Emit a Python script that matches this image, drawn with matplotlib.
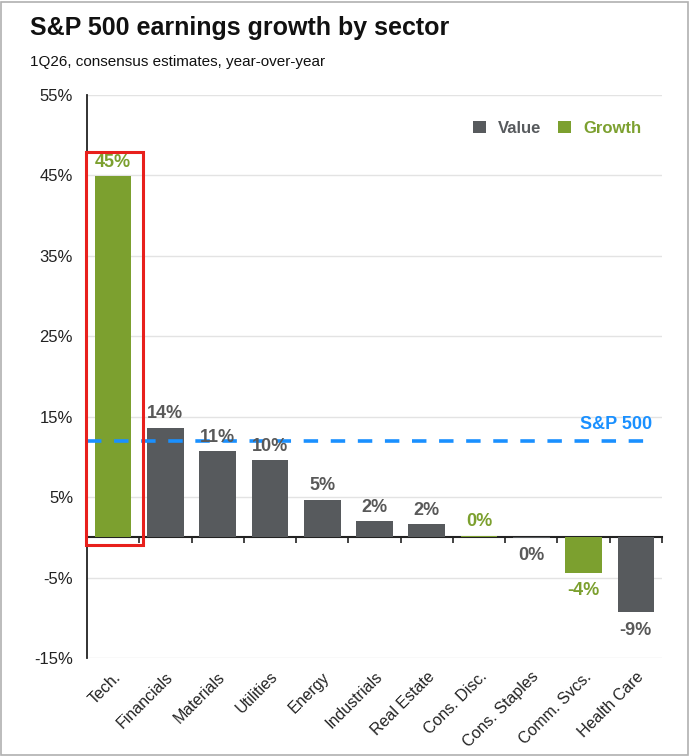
import matplotlib
matplotlib.use("Agg")
import matplotlib.pyplot as plt
from matplotlib.patches import Rectangle, Patch
import numpy as np

plt.rcParams['font.family'] = ['Liberation Sans', 'DejaVu Sans']

sectors = ["Tech.", "Financials", "Materials", "Utilities", "Energy", "Industrials",
           "Real Estate", "Cons. Disc.", "Cons. Staples", "Comm. Svcs.", "Health Care"]
growth = [44.9, 13.6, 10.7, 9.6, 4.7, 2.0, 1.6, 0.2, -0.05, -4.4, -9.3]
style = ["Growth", "Value", "Value", "Value", "Value", "Value", "Value",
         "Growth", "Value", "Growth", "Value"]
sp500 = 12.0
yticks = [55, 45, 35, 25, 15, 5, -5, -15]

GREY = "#575a5d"
GREEN = "#7ca02f"
BLUE = "#1a90ff"
LABEL_GREY = "#595959"
colors = {"Value": GREY, "Growth": GREEN}
text_colors = {"Value": LABEL_GREY, "Growth": GREEN}

fig = plt.figure(figsize=(6.89, 7.56), dpi=100)
ax = fig.add_axes([87/689, 1-658/756, 575/689, 563/756])

x = np.arange(len(sectors))
ax.bar(x, growth, width=0.7, color=[colors[s] for s in style], zorder=3)

ax.set_xlim(-0.5, len(sectors) - 0.5)
ax.set_ylim(-15, 55)
ax.set_yticks(yticks)
ax.set_yticklabels([f"{t}%" for t in yticks], fontsize=12, color="#222222")
ax.tick_params(axis='y', length=0, pad=10)
ax.grid(axis='y', color="#e3e3e3", linewidth=1, zorder=0)

ax.set_xticks(x)
ax.set_xticklabels(sectors, rotation=45, ha='right', rotation_mode='anchor',
                   fontsize=11.5, color="#222222")
ax.tick_params(axis='x', length=0, pad=8)

for side in ["top", "right", "bottom"]:
    ax.spines[side].set_visible(False)
ax.spines["left"].set_color("#222222")
ax.spines["left"].set_linewidth(1.3)

# zero axis with category-boundary ticks
sec = ax.secondary_xaxis(15/70)
sec.set_xticks(np.arange(len(sectors) + 1) - 0.5)
sec.set_xticklabels([])
sec.tick_params(axis='x', direction='out', length=4, width=1.2, color="#222222")
sec.spines["bottom"].set_color("#222222")
sec.spines["bottom"].set_linewidth(1.5)

# S&P 500 line
ax.axhline(sp500, color=BLUE, linestyle=(0, (4, 3.5)), linewidth=2.6, zorder=4,
           xmin=0.0, xmax=0.985)
ax.text(len(sectors) - 0.68, sp500 + 1.0, "S&P 500", color=BLUE, fontsize=13,
        fontweight='bold', ha='right', va='bottom', zorder=5)

# value labels
for xi, v, s in zip(x, growth, style):
    lab = f"{round(v):d}%"
    if v > 0:
        ax.annotate(lab, (xi, v), xytext=(0, 4), textcoords='offset points',
                    ha='center', va='bottom', fontsize=13, fontweight='bold',
                    color=text_colors[s], zorder=5)
    else:
        ax.annotate(lab, (xi, v), xytext=(0, -7), textcoords='offset points',
                    ha='center', va='top', fontsize=13, fontweight='bold',
                    color=text_colors[s], zorder=5)

# red highlight box around Tech
ax.add_patch(Rectangle((-0.52, -0.9), 1.09, growth[0] + 3.9, fill=False,
                       edgecolor="#e8201c", linewidth=2.2, zorder=6, clip_on=False))

# legend
handles = [Patch(facecolor=GREY, label="Value"), Patch(facecolor=GREEN, label="Growth")]
leg = ax.legend(handles=handles, loc='center right', bbox_to_anchor=(0.99, 0.941),
                ncol=2, frameon=False, handlelength=0.8, handleheight=0.8,
                handletextpad=0.7, columnspacing=1.0,
                prop={'size': 12, 'weight': 'bold'})
for t, c in zip(leg.get_texts(), [GREY, GREEN]):
    t.set_color(c)

fig.text(30/689, 1-28/756, "S&P 500 earnings growth by sector", fontsize=18,
         fontweight='bold', ha='left', va='center', color="#111111")
fig.text(30/689, 1-62/756, "1Q26, consensus estimates, year-over-year", fontsize=11,
         ha='left', va='center', color="#111111")

fig.patches.append(Rectangle((0.001, 0.001), 0.997, 0.997, transform=fig.transFigure,
                             fill=False, edgecolor="#b0b0b0", linewidth=1.2))

fig.savefig("out.png", dpi=100)
